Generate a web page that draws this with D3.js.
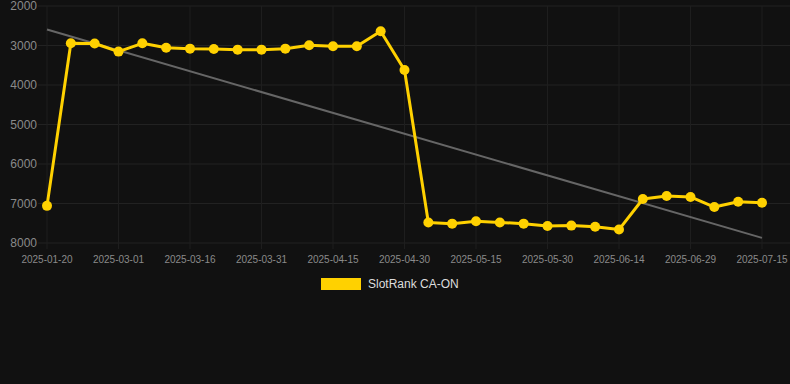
<!DOCTYPE html>
<html><head><meta charset="utf-8">
<script src="https://cdn.jsdelivr.net/npm/d3@7"></script>
<style>
html,body{margin:0;padding:0;background:#111111;}
svg{display:block;}
</style></head>
<body>
<script>
const labels = ["2025-01-20","2025-02-19","2025-02-24","2025-03-01","2025-03-06","2025-03-11","2025-03-16","2025-03-21","2025-03-26","2025-03-31","2025-04-05","2025-04-10","2025-04-15","2025-04-20","2025-04-25","2025-04-30","2025-05-05","2025-05-10","2025-05-15","2025-05-20","2025-05-25","2025-05-30","2025-06-04","2025-06-09","2025-06-14","2025-06-19","2025-06-24","2025-06-29","2025-07-04","2025-07-09","2025-07-15"];
const values = [7060,2945,2950,3155,2945,3055,3080,3090,3105,3105,3080,2995,3020,3020,2640,3620,7480,7510,7450,7480,7510,7570,7560,7590,7660,6885,6810,6835,7090,6955,6980];
const yTicks = [2000,3000,4000,5000,6000,7000,8000];
const seriesName = "SlotRank CA-ON";

const W = 790, H = 384;
const svg = d3.select("body").append("svg").attr("width", W).attr("height", H);
svg.append("rect").attr("width", W).attr("height", H).attr("fill", "#111111");

const x = d3.scaleLinear().domain([0, labels.length - 1]).range([47, 762]);
const y = d3.scaleLinear().domain([2000, 8000]).range([6, 243]);

// horizontal grid
svg.append("g").selectAll("line").data(yTicks).join("line")
  .attr("x1", 38).attr("x2", W).attr("y1", d => y(d)).attr("y2", d => y(d))
  .attr("stroke", "#222222").attr("stroke-width", 1);
// vertical grid
const shown = labels.map((l, i) => i).filter(i => i % 3 === 0);
svg.append("g").selectAll("line").data(shown).join("line")
  .attr("x1", i => x(i)).attr("x2", i => x(i)).attr("y1", 6).attr("y2", 249)
  .attr("stroke", "#1e1e1e").attr("stroke-width", 1);

// y labels
svg.append("g").selectAll("text").data(yTicks).join("text")
  .attr("x", 37).attr("y", d => y(d)).attr("dy", "0.35em").attr("text-anchor", "end")
  .attr("fill", "#8a8a8a").attr("font-family", "Liberation Sans, Arial, sans-serif").attr("font-size", 12)
  .text(d => d);
// x labels
svg.append("g").selectAll("text").data(shown).join("text")
  .attr("x", i => x(i)).attr("y", 259).attr("dy", "0.35em").attr("text-anchor", "middle")
  .attr("fill", "#8a8a8a").attr("font-family", "Liberation Sans, Arial, sans-serif").attr("font-size", 10)
  .text(i => labels[i]);

// trend (least squares)
const n = values.length;
const mx = d3.mean(values, (v, i) => i), my = d3.mean(values);
const slope = d3.sum(values, (v, i) => (i - mx) * (v - my)) / d3.sum(values, (v, i) => (i - mx) * (i - mx));
const icpt = my - slope * mx;
svg.append("line")
  .attr("x1", x(0)).attr("y1", y(icpt))
  .attr("x2", x(n - 1)).attr("y2", y(icpt + slope * (n - 1)))
  .attr("stroke", "#666666").attr("stroke-width", 2);

// series line
const line = d3.line().x((v, i) => x(i)).y(v => y(v));
svg.append("path").datum(values).attr("d", line)
  .attr("fill", "none").attr("stroke", "#FFD100").attr("stroke-width", 3).attr("stroke-linejoin", "round");
svg.append("g").selectAll("circle").data(values).join("circle")
  .attr("cx", (v, i) => x(i)).attr("cy", v => y(v)).attr("r", 5)
  .attr("fill", "#FFD100");

// legend
svg.append("rect").attr("x", 321).attr("y", 278).attr("width", 40).attr("height", 12).attr("fill", "#FFD100");
svg.append("text").attr("x", 368).attr("y", 284).attr("dy", "0.35em")
  .attr("fill", "#dddddd").attr("font-family", "Liberation Sans, Arial, sans-serif").attr("font-size", 12)
  .text(seriesName);
</script>
</body></html>
